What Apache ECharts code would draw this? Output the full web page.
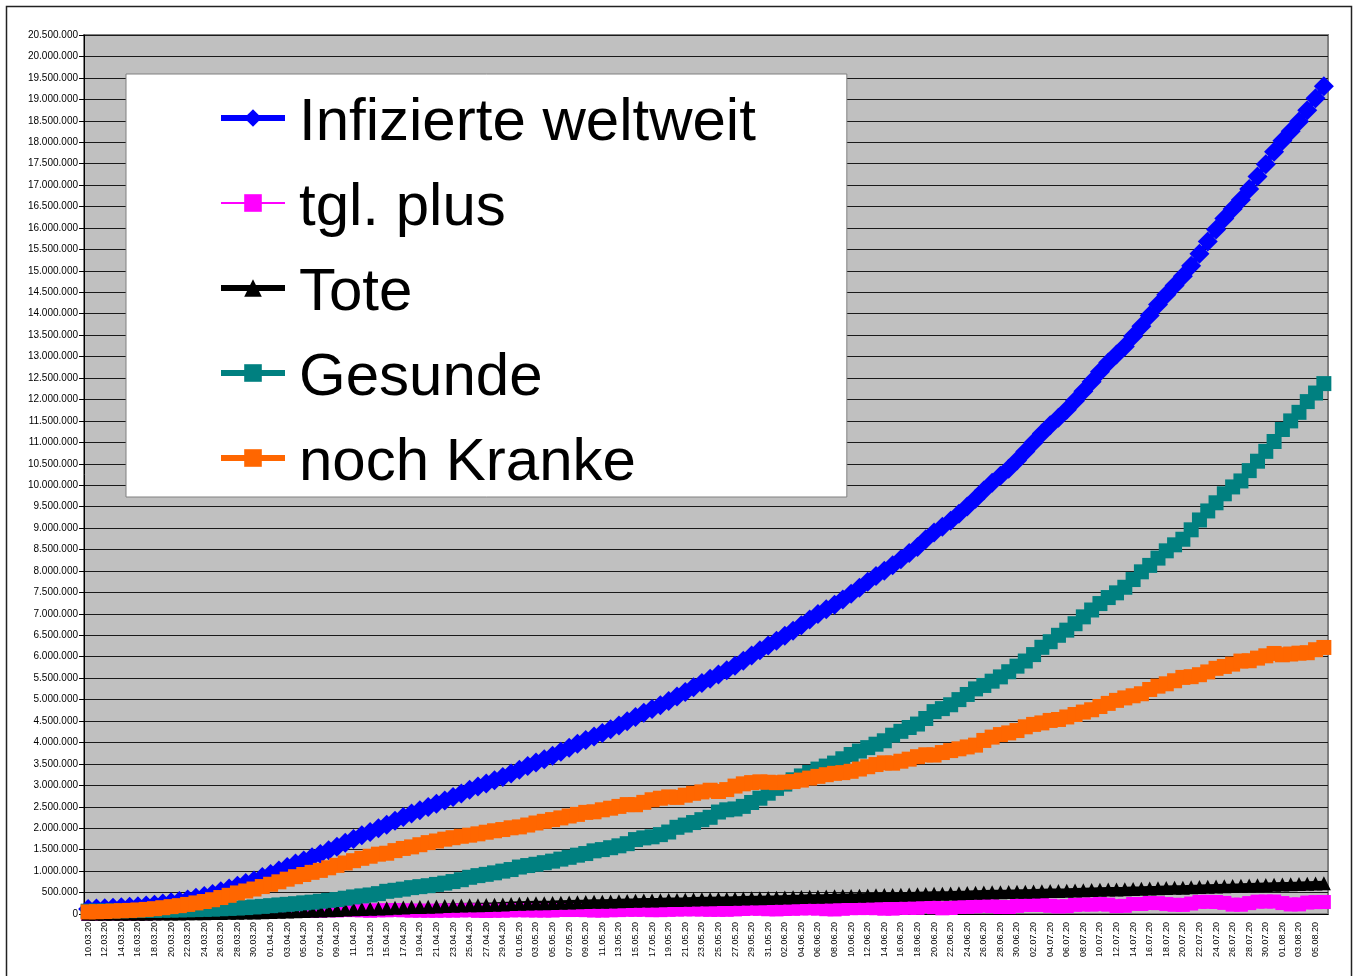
<!DOCTYPE html>
<html><head><meta charset="utf-8">
<script src="https://cdn.jsdelivr.net/npm/echarts@6/dist/echarts.min.js"></script>
<style>html,body{margin:0;padding:0;background:#fff}#c{width:1356px;height:976px}</style>
</head><body><div id="c"></div>
<script>
const dates = [
"10.03.20","11.03.20","12.03.20","13.03.20","14.03.20","15.03.20","16.03.20","17.03.20","18.03.20","19.03.20","20.03.20","21.03.20","22.03.20","23.03.20","24.03.20","25.03.20","26.03.20","27.03.20","28.03.20","29.03.20","30.03.20","31.03.20",
"01.04.20","02.04.20","03.04.20","04.04.20","05.04.20","06.04.20","07.04.20","08.04.20","09.04.20","10.04.20","11.04.20","12.04.20","13.04.20","14.04.20","15.04.20","16.04.20","17.04.20","18.04.20","19.04.20","20.04.20","21.04.20","22.04.20","23.04.20","24.04.20","25.04.20","26.04.20","27.04.20","28.04.20","29.04.20","30.04.20",
"01.05.20","02.05.20","03.05.20","04.05.20","05.05.20","06.05.20","07.05.20","08.05.20","09.05.20","10.05.20","11.05.20","12.05.20","13.05.20","14.05.20","15.05.20","16.05.20","17.05.20","18.05.20","19.05.20","20.05.20","21.05.20","22.05.20","23.05.20","24.05.20","25.05.20","26.05.20","27.05.20","28.05.20","29.05.20","30.05.20","31.05.20",
"01.06.20","02.06.20","03.06.20","04.06.20","05.06.20","06.06.20","07.06.20","08.06.20","09.06.20","10.06.20","11.06.20","12.06.20","13.06.20","14.06.20","15.06.20","16.06.20","17.06.20","18.06.20","19.06.20","20.06.20","21.06.20","22.06.20","23.06.20","24.06.20","25.06.20","26.06.20","27.06.20","28.06.20","29.06.20","30.06.20",
"01.07.20","02.07.20","03.07.20","04.07.20","05.07.20","06.07.20","07.07.20","08.07.20","09.07.20","10.07.20","11.07.20","12.07.20","13.07.20","14.07.20","15.07.20","16.07.20","17.07.20","18.07.20","19.07.20","20.07.20","21.07.20","22.07.20","23.07.20","24.07.20","25.07.20","26.07.20","27.07.20","28.07.20","29.07.20","30.07.20","31.07.20",
"01.08.20","02.08.20","03.08.20","04.08.20","05.08.20","06.08.20"];

const infected = [
119000,126000,134000,146000,157000,168000,182000,198000,217000,245000,275000,304000,337000,378000,418000,468000,530000,594000,661000,721000,784000,860000,
935000,1015000,1097000,1175000,1250000,1322000,1397000,1484000,1567000,1660000,1750000,1835000,1911000,1997000,2083000,2177000,2263000,2341000,2419000,2495000,2570000,2649000,2727000,2810000,2897000,2971000,3042000,3117000,3194000,3278000,
3366000,3450000,3531000,3611000,3692000,3785000,3877000,3970000,4059000,4140000,4219000,4306000,4397000,4495000,4592000,4691000,4780000,4870000,4967000,5070000,5178000,5286000,5390000,5487000,5584000,5682000,5789000,5906000,6031000,6152000,6263000,
6370000,6487000,6608000,6737000,6870000,6995000,7107000,7213000,7334000,7470000,7608000,7747000,7882000,8006000,8131000,8274000,8417000,8560000,8740000,8898000,9030000,9170000,9336000,9505000,9684000,9878000,10060000,10223000,10385000,10575000,
10787000,10998000,11208000,11400000,11576000,11758000,11972000,12194000,12413000,12644000,12862000,13046000,13237000,13472000,13705000,13961000,14214000,14445000,14660000,14872000,15116000,15399000,15683000,15963000,16222000,16440000,16656000,16910000,17198000,17488000,17779000,
18034000,18256000,18480000,18747000,19024000,19303000];

const dailyPlus = [
4600,7000,8000,12000,11000,11000,14000,16000,19000,28000,30000,29000,33000,41000,40000,50000,62000,64000,67000,60000,63000,76000,
75000,80000,82000,78000,75000,72000,75000,87000,83000,93000,90000,85000,76000,86000,86000,94000,86000,78000,78000,76000,75000,79000,78000,83000,87000,74000,71000,75000,77000,84000,
88000,84000,81000,80000,81000,93000,92000,93000,89000,81000,79000,87000,91000,98000,97000,99000,89000,90000,97000,103000,108000,108000,104000,97000,97000,98000,107000,117000,125000,121000,111000,
107000,117000,121000,129000,133000,125000,112000,106000,121000,136000,138000,139000,135000,124000,125000,143000,143000,143000,180000,158000,132000,140000,166000,169000,179000,194000,182000,163000,162000,190000,
212000,211000,210000,192000,176000,182000,214000,222000,219000,231000,218000,184000,191000,235000,233000,256000,253000,231000,215000,212000,244000,283000,284000,280000,259000,218000,216000,254000,288000,290000,291000,
255000,222000,224000,267000,277000,279000];

const deaths = [
4300,4600,5000,5400,5800,6500,7200,8000,8900,10000,11400,13000,14700,16500,18900,21300,24100,27300,30900,34000,37600,42300,
47200,53200,59000,64800,69400,74700,82000,88500,95700,102700,108500,114200,119600,126600,136900,145600,154200,160700,165100,169900,177200,183900,190800,197200,202700,206500,209800,215700,224200,230800,
239600,245100,248700,252400,257300,263900,269500,274800,279000,283400,286900,292500,297800,303100,307700,312500,315600,319000,324100,328900,333300,338700,342500,345400,349100,350400,355700,360600,365400,369600,373300,
376800,382100,388900,394100,400900,404800,408400,412300,417100,421900,427100,432200,436400,440300,443600,450400,455700,460900,466200,470500,474500,478600,483800,488900,495700,500200,504500,508000,511600,516200,
521400,526300,531400,535800,539200,542700,548700,554200,559600,565100,570200,574000,577300,582900,588400,594500,600000,606100,610100,614100,621100,628000,637200,643400,648400,652100,657100,663800,670300,676500,682700,
688800,692700,697000,703500,710200,716800];

const recovered = [
66200,68300,70400,72600,75600,78100,80800,82800,84300,88400,91600,96000,99000,103000,108000,114000,122000,131000,139000,150000,164000,178000,
194000,211000,226000,240000,260000,276000,298000,318000,337000,368000,398000,422000,444000,475000,529000,553000,580000,615000,638000,660000,690000,720000,757000,800000,856000,895000,925000,960000,1000000,1037000,
1095000,1130000,1160000,1197000,1233000,1280000,1322000,1372000,1410000,1473000,1502000,1546000,1590000,1640000,1736000,1775000,1800000,1851000,1912000,2022000,2074000,2133000,2200000,2255000,2378000,2430000,2450000,2510000,2601000,2700000,2817000,
2930000,3030000,3130000,3220000,3300000,3380000,3450000,3520000,3620000,3720000,3800000,3880000,3960000,4040000,4170000,4260000,4350000,4430000,4560000,4720000,4790000,4880000,5000000,5120000,5250000,5330000,5430000,5530000,5650000,5780000,
5900000,6050000,6220000,6350000,6500000,6620000,6770000,6930000,7090000,7240000,7380000,7490000,7620000,7800000,7980000,8130000,8300000,8470000,8610000,8740000,8960000,9190000,9400000,9590000,9800000,9960000,10100000,10340000,10560000,10790000,11020000,
11300000,11500000,11700000,11950000,12150000,12370000];

const stillSick = [
48500,53100,58600,68000,75600,83400,94000,107200,123800,146600,172000,195000,223300,258500,291100,332700,383900,435700,491100,537000,582400,639700,
693800,750800,812000,870200,920600,971300,1017000,1077500,1134300,1189300,1243500,1298800,1347400,1395400,1417100,1478400,1528800,1565300,1615900,1665100,1702800,1745100,1779200,1812800,1838300,1869500,1907200,1941300,1969800,2010200,
2031400,2074900,2122300,2161600,2201700,2241100,2285500,2323200,2370000,2383600,2430100,2467500,2509200,2551900,2548300,2603500,2664400,2700000,2730900,2719100,2770700,2814300,2847500,2886600,2856900,2901600,2983300,3035400,3064600,3082400,3072700,
3063200,3074900,3089100,3122900,3169100,3210200,3248600,3280700,3296900,3328100,3380900,3434800,3485600,3525700,3517400,3563600,3611300,3669100,3713800,3707500,3765500,3811400,3852200,3896100,3938300,4047800,4125500,4185000,4223400,4278800,
4365600,4421700,4456600,4514200,4536800,4595300,4653300,4709800,4763400,4838900,4911800,4982000,5039700,5089100,5136600,5236500,5314000,5368900,5439900,5517900,5534900,5581000,5645800,5729600,5773600,5827900,5898900,5906200,5967700,6021500,6076300,
6045200,6063300,6083000,6093500,6163800,6216200];

const seriesNames = ["Infizierte weltweit","tgl. plus","Tote","Gesunde","noch Kranke"];

const FONT = "'Liberation Sans', Arial, Helvetica, sans-serif";
const fmt = v => v === 0 ? '0' : String(v).replace(/\B(?=(\d{3})+(?!\d))/g, '.');

const chart = echarts.init(document.getElementById('c'), null, {renderer: 'canvas'});

function mk(name, data, color, symbol, size, lw) {
  return {
    name: name, type: 'line', data: data,
    symbol: symbol, symbolSize: size, showSymbol: true, showAllSymbol: true,
    itemStyle: {color: color, borderWidth: 0},
    lineStyle: {color: color, width: lw},
    emphasis: {disabled: true},
    clip: true
  };
}

const legendLineWidths = [6, 2, 6, 6, 6];

chart.setOption({
  animation: false,
  backgroundColor: '#ffffff',
  textStyle: {fontFamily: FONT},
  graphic: [{
    type: 'rect', silent: true, z: -10,
    shape: {x: 6.5, y: 6.5, width: 1345, height: 990},
    style: {fill: null, stroke: '#222', lineWidth: 1.5}
  }],
  grid: {
    left: 84, top: 35, right: 28, bottom: 62,
    show: true, backgroundColor: '#C0C0C0', borderColor: '#808080', borderWidth: 2
  },
  xAxis: {
    type: 'category', data: dates, boundaryGap: true,
    axisLine: {lineStyle: {color: '#000', width: 1}},
    axisTick: {interval: 1, length: 5, lineStyle: {color: '#000'}},
    axisLabel: {interval: 1, rotate: 90, fontSize: 9, color: '#000', margin: 8, fontFamily: FONT},
    splitLine: {show: false}
  },
  yAxis: {
    type: 'value', min: 0, max: 20500000, interval: 500000,
    axisLine: {show: true, lineStyle: {color: '#000', width: 1}},
    axisTick: {show: true, length: 5, lineStyle: {color: '#000'}},
    axisLabel: {fontSize: 10, color: '#000', formatter: fmt, margin: 6, fontFamily: FONT},
    splitLine: {show: true, lineStyle: {color: '#1a1a1a', width: 1}}
  },
  legend: {
    orient: 'vertical', left: 126, top: 74,
    data: seriesNames.map((n, i) => ({name: n, lineStyle: {width: legendLineWidths[i]}})),
    backgroundColor: '#ffffff', borderColor: '#808080', borderWidth: 1,
    padding: [9, 91, 4, 92],
    itemWidth: 64, itemHeight: 22, itemGap: 15, itemTextGap: 22,
    formatter: '{t|{name}}',
    textStyle: {
      fontSize: 60, color: '#000', fontFamily: FONT,
      rich: {t: {fontSize: 60, lineHeight: 60, padding: [10, 0, 0, 9], color: '#000', fontFamily: FONT}}
    },
    selectedMode: false, z: 10
  },
  series: [
    mk(seriesNames[0], infected, '#0000FF', 'diamond', 20, 5),
    mk(seriesNames[1], dailyPlus, '#FF00FF', 'rect', 14, 1.5),
    mk(seriesNames[2], deaths, '#000000', 'triangle', 14, 5),
    mk(seriesNames[3], recovered, '#008080', 'rect', 15, 5),
    mk(seriesNames[4], stillSick, '#FF6600', 'rect', 15, 5)
  ]
});
</script>
</body></html>
